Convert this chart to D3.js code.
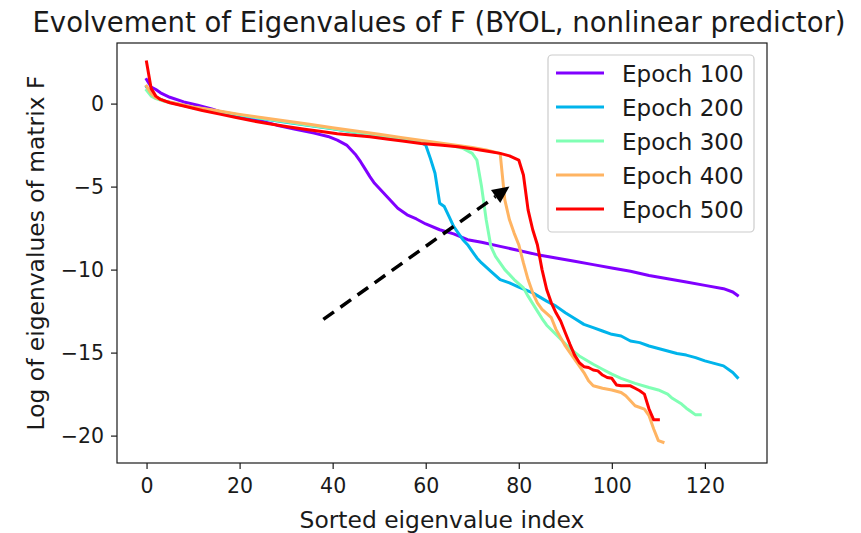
<!DOCTYPE html>
<html>
<head>
<meta charset="utf-8">
<script src="https://cdn.jsdelivr.net/npm/d3@7"></script>
<style>
  body { margin: 0; background: #fff; }
  text { font-family: "DejaVu Sans", sans-serif; fill: #1a1a1a; }
</style>
</head>
<body>
<script>
// Series data: [sorted index, log eigenvalue]
const epoch100 = [[0,1.45],[1,1.0],[2,0.85],[3,0.65],[5,0.38],[8,0.1],[11,-0.1],[14,-0.32],[16,-0.5],[20,-0.75],[24,-1.0],[28,-1.3],[32,-1.55],[36,-1.78],[39,-1.98],[41,-2.2],[43,-2.5],[44,-2.8],[45,-3.1],[46,-3.5],[47,-3.95],[48,-4.4],[49,-4.8],[50,-5.1],[52,-5.7],[54,-6.3],[56,-6.7],[58,-6.95],[60,-7.25],[63,-7.6],[66,-7.85],[69,-8.2],[72,-8.35],[76,-8.6],[80,-8.85],[84,-9.1],[88,-9.3],[92,-9.5],[96,-9.7],[100,-9.9],[104,-10.1],[108,-10.35],[112,-10.55],[116,-10.75],[120,-10.95],[124,-11.15],[126,-11.35],[127,-11.55]];

const epoch200 = [[0,1.0],[1,0.6],[2,0.35],[4,0.15],[7,-0.05],[10,-0.25],[15,-0.45],[20,-0.7],[25,-0.92],[30,-1.12],[35,-1.32],[40,-1.52],[45,-1.75],[50,-1.95],[55,-2.15],[59,-2.35],[60,-2.5],[61,-3.3],[62,-4.2],[63,-6.0],[64,-6.2],[65,-6.8],[66,-7.4],[67,-7.8],[68,-8.2],[69,-8.5],[70,-8.9],[71,-9.3],[72,-9.6],[74,-10.1],[76,-10.6],[78,-10.8],[80,-11.05],[83,-11.4],[86,-11.9],[88,-12.2],[90,-12.6],[92,-12.95],[94,-13.3],[96,-13.5],[98,-13.7],[100,-13.9],[102,-14.0],[104,-14.3],[106,-14.4],[108,-14.6],[110,-14.75],[112,-14.9],[114,-15.05],[116,-15.15],[118,-15.3],[120,-15.5],[122,-15.65],[124,-15.8],[126,-16.2],[127,-16.5]];

const epoch300 = [[0,0.8],[1,0.45],[2,0.3],[4,0.12],[7,-0.05],[10,-0.22],[15,-0.45],[20,-0.68],[25,-0.9],[30,-1.1],[35,-1.3],[40,-1.5],[45,-1.72],[50,-1.92],[55,-2.12],[60,-2.32],[65,-2.5],[68,-2.7],[69,-2.85],[70,-3.0],[71,-3.4],[72,-5.0],[73,-7.0],[74,-8.6],[75,-9.2],[77,-10.0],[79,-10.6],[81,-11.1],[82,-11.6],[84,-12.5],[85,-12.95],[86,-13.35],[88,-13.9],[91,-14.75],[93,-15.2],[96,-15.7],[98,-16.0],[100,-16.3],[102,-16.55],[105,-16.85],[108,-17.1],[110,-17.25],[112,-17.5],[113,-17.75],[115,-18.1],[116,-18.35],[117,-18.55],[118,-18.75],[119,-18.75]];

const epoch400 = [[0,1.05],[1,0.6],[2,0.35],[4,0.15],[7,-0.03],[10,-0.2],[15,-0.42],[20,-0.65],[25,-0.85],[30,-1.05],[35,-1.25],[40,-1.45],[45,-1.65],[50,-1.85],[55,-2.05],[60,-2.25],[65,-2.45],[70,-2.65],[73,-2.8],[76,-3.0],[77,-5.8],[78,-7.0],[79,-7.8],[80,-8.5],[81,-9.6],[82,-10.6],[83,-11.4],[84,-12.0],[85,-12.4],[87,-12.9],[88,-13.6],[90,-14.6],[91,-15.0],[93,-15.8],[94,-16.2],[95,-16.7],[96,-17.0],[98,-17.15],[100,-17.25],[102,-17.4],[103,-17.6],[104,-17.9],[105,-18.2],[107,-18.4],[108,-18.8],[109,-19.6],[110,-20.3],[111,-20.4]];

const epoch500 = [[0,2.5],[1,0.9],[2,0.45],[3,0.25],[5,0.05],[8,-0.15],[12,-0.42],[16,-0.65],[19,-0.82],[23,-1.05],[26,-1.2],[30,-1.38],[34,-1.55],[38,-1.7],[41,-1.82],[45,-1.92],[48,-2.0],[52,-2.15],[55,-2.25],[59,-2.4],[63,-2.5],[67,-2.6],[70,-2.72],[73,-2.85],[76,-3.0],[78,-3.15],[80,-3.4],[81,-4.3],[82,-6.4],[83,-7.6],[84,-8.5],[85,-10.0],[86,-11.2],[87,-12.0],[88,-12.6],[89,-13.1],[90,-13.8],[91,-14.5],[92,-15.15],[93,-15.6],[94,-15.85],[95,-15.9],[96,-16.05],[97,-16.1],[98,-16.35],[99,-16.5],[100,-16.55],[101,-16.95],[102,-17.0],[104,-17.0],[105,-17.15],[106,-17.3],[107,-17.5],[108,-18.4],[109,-19.05],[110,-19.05]];

const seriesNames = ["Epoch 100", "Epoch 200", "Epoch 300", "Epoch 400", "Epoch 500"];
const seriesColors = ["#8000ff", "#00b4eb", "#80ffb4", "#ffb462", "#ff0000"];
const xTicks = [0, 20, 40, 60, 80, 100, 120];
const yTicks = [0, -5, -10, -15, -20];
// dashed annotation arrow: from, to (data coords)
const arrowFrom = [38, -13];
const arrowTo = [78, -5];

const allSeries = [epoch100, epoch200, epoch300, epoch400, epoch500];

const width = 861, height = 533;
const plotLeft = 117, plotRight = 767, plotTop = 43, plotBottom = 463;

const svg = d3.select("body").append("svg")
    .attr("width", width)
    .attr("height", height);

const x = d3.scaleLinear().domain([-6.35, 133.35]).range([plotLeft, plotRight]);
const y = d3.scaleLinear().domain([-21.65, 3.65]).range([plotBottom, plotTop]);

// lines
const line = d3.line().x(d => x(d[0])).y(d => y(d[1]));
svg.append("g").selectAll("path")
    .data(allSeries)
    .enter().append("path")
    .attr("d", line)
    .attr("fill", "none")
    .attr("stroke", (d, i) => seriesColors[i])
    .attr("stroke-width", 3)
    .attr("stroke-linejoin", "round")
    .attr("stroke-linecap", "square");

// arrow
const x0 = x(arrowFrom[0]), y0 = y(arrowFrom[1]);
const x1 = x(arrowTo[0]), y1 = y(arrowTo[1]);
const ang = Math.atan2(y1 - y0, x1 - x0);
const headLen = 17, headHalf = 8;
const bx = x1 - headLen * Math.cos(ang), by = y1 - headLen * Math.sin(ang);
svg.append("line")
    .attr("x1", x0).attr("y1", y0)
    .attr("x2", bx).attr("y2", by)
    .attr("stroke", "black")
    .attr("stroke-width", 3.5)
    .attr("stroke-dasharray", "13,8");
svg.append("path")
    .attr("d", `M${x1},${y1}L${bx - headHalf * Math.sin(ang)},${by + headHalf * Math.cos(ang)}L${bx + headHalf * Math.sin(ang)},${by - headHalf * Math.cos(ang)}Z`)
    .attr("fill", "black");

// axes
const xAxis = svg.append("g")
    .attr("transform", `translate(0,${plotBottom})`)
    .call(d3.axisBottom(x).tickValues(xTicks).tickSize(6).tickPadding(9));
const yAxis = svg.append("g")
    .attr("transform", `translate(${plotLeft},0)`)
    .call(d3.axisLeft(y).tickValues(yTicks).tickSize(6).tickPadding(7).tickFormat(d => d < 0 ? "\u2212" + Math.abs(d) : d));
[xAxis, yAxis].forEach(g => {
    g.select(".domain").remove();
    g.selectAll("line").attr("stroke", "#1a1a1a").attr("stroke-width", 1.2);
    g.selectAll("text").attr("font-size", 20.5).attr("font-family", "DejaVu Sans").attr("fill", "#1a1a1a");
});

// frame
svg.append("rect")
    .attr("x", plotLeft).attr("y", plotTop)
    .attr("width", plotRight - plotLeft).attr("height", plotBottom - plotTop)
    .attr("fill", "none")
    .attr("stroke", "#1a1a1a")
    .attr("stroke-width", 1.2);

// title and labels
svg.append("text")
    .attr("x", 439).attr("y", 32)
    .attr("text-anchor", "middle")
    .attr("font-size", 27.5)
    .text("Evolvement of Eigenvalues of F (BYOL, nonlinear predictor)");

svg.append("text")
    .attr("x", (plotLeft + plotRight) / 2).attr("y", 528)
    .attr("text-anchor", "middle")
    .attr("font-size", 23.4)
    .text("Sorted eigenvalue index");

svg.append("text")
    .attr("transform", `translate(44,${(plotTop + plotBottom) / 2}) rotate(-90)`)
    .attr("text-anchor", "middle")
    .attr("font-size", 23.4)
    .text("Log of eigenvalues of matrix F");

// legend
const legend = svg.append("g");
legend.append("rect")
    .attr("x", 548).attr("y", 55)
    .attr("width", 206).attr("height", 177)
    .attr("rx", 4)
    .attr("fill", "white")
    .attr("fill-opacity", 0.8)
    .attr("stroke", "#cccccc")
    .attr("stroke-width", 1.2);
seriesNames.forEach((name, i) => {
    const ly = 73 + i * 34;
    legend.append("line")
        .attr("x1", 556).attr("x2", 604)
        .attr("y1", ly).attr("y2", ly)
        .attr("stroke", seriesColors[i])
        .attr("stroke-width", 3);
    legend.append("text")
        .attr("x", 622).attr("y", ly + 8.5)
        .attr("font-size", 23)
        .text(name);
});
</script>
</body>
</html>
